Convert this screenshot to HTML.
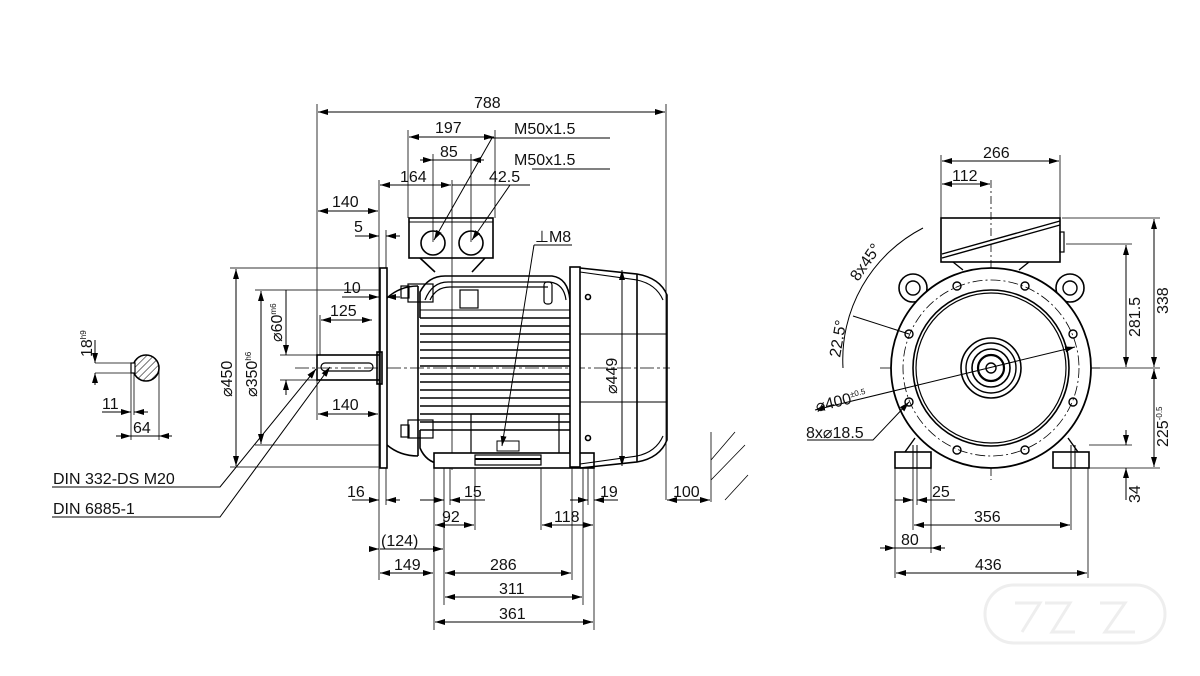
<!DOCTYPE html>
<html><head><meta charset="utf-8"><style>
html,body{margin:0;padding:0;background:#fff;}
svg{display:block}
text{font-family:"Liberation Sans",sans-serif;font-size:16px;fill:#111;}
</style></head><body>
<svg width="1200" height="676" viewBox="0 0 1200 676" xmlns="http://www.w3.org/2000/svg">
<defs>
<marker id="a" viewBox="0 0 10 6" refX="10" refY="3" markerWidth="10" markerHeight="6" orient="auto-start-reverse" markerUnits="userSpaceOnUse"><path d="M0,0L10,3L0,6z" fill="#000"/></marker>
<pattern id="h" width="5" height="5" patternUnits="userSpaceOnUse" patternTransform="rotate(45)"><line x1="0" y1="0" x2="0" y2="5" stroke="#000" stroke-width="1"/></pattern>
</defs>
<rect width="1200" height="676" fill="#fff"/>

<g stroke="#333" stroke-width="1" fill="none">
 <line x1="317" y1="104" x2="317" y2="420"/>
 <line x1="666" y1="104" x2="666" y2="500"/>
 <line x1="408" y1="130" x2="408" y2="218"/>
 <line x1="495" y1="130" x2="495" y2="218"/>
 <line x1="433" y1="154" x2="433" y2="242"/>
 <line x1="471" y1="154" x2="471" y2="242"/>
 <line x1="379" y1="180" x2="379" y2="580"/>
 <line x1="386" y1="230" x2="386" y2="268"/>
 <line x1="452" y1="180" x2="452" y2="470"/>
 <line x1="320" y1="315" x2="320" y2="355"/>
 <line x1="230" y1="268" x2="380" y2="268"/>
 <line x1="255" y1="290" x2="380" y2="290"/>
 <line x1="280" y1="355" x2="317" y2="355"/>
 <line x1="280" y1="380" x2="317" y2="380"/>
 <line x1="255" y1="445" x2="380" y2="445"/>
 <line x1="230" y1="467" x2="380" y2="467"/>
 <line x1="386" y1="468" x2="386" y2="505"/>
 <line x1="434" y1="468" x2="434" y2="630"/>
 <line x1="444" y1="468" x2="444" y2="605"/>
 <line x1="450" y1="468" x2="450" y2="505"/>
 <line x1="475" y1="468" x2="475" y2="530"/>
 <line x1="541" y1="468" x2="541" y2="530"/>
 <line x1="572" y1="468" x2="572" y2="580"/>
 <line x1="583" y1="468" x2="583" y2="605"/>
 <line x1="588" y1="468" x2="588" y2="505"/>
 <line x1="594" y1="468" x2="594" y2="630"/>
 <line x1="711" y1="432" x2="711" y2="502"/>
</g>
<g stroke="#000" stroke-width="1" fill="none">
 <line x1="318" y1="112" x2="665" y2="112" marker-start="url(#a)" marker-end="url(#a)"/>
 <line x1="409" y1="137" x2="494" y2="137" marker-start="url(#a)" marker-end="url(#a)"/>
 <line x1="420" y1="160" x2="433" y2="160" marker-end="url(#a)"/>
 <line x1="484" y1="160" x2="471" y2="160" marker-end="url(#a)"/>
 <line x1="433" y1="160" x2="471" y2="160"/>
 <line x1="380" y1="185" x2="451" y2="185" marker-start="url(#a)" marker-end="url(#a)"/>
 <line x1="452" y1="185" x2="530" y2="185"/>
 <line x1="318" y1="211" x2="378" y2="211" marker-start="url(#a)" marker-end="url(#a)"/>
 <line x1="355" y1="236" x2="379" y2="236" marker-end="url(#a)"/>
 <line x1="400" y1="236" x2="386" y2="236" marker-end="url(#a)"/>
 <line x1="342" y1="297" x2="379" y2="297" marker-end="url(#a)"/>
 <line x1="400" y1="297" x2="386" y2="297" marker-end="url(#a)"/>
 <line x1="321" y1="320" x2="372" y2="320" marker-start="url(#a)" marker-end="url(#a)"/>
 <line x1="318" y1="414" x2="378" y2="414" marker-start="url(#a)" marker-end="url(#a)"/>
 <line x1="236" y1="269" x2="236" y2="466" marker-start="url(#a)" marker-end="url(#a)"/>
 <line x1="261" y1="291" x2="261" y2="444" marker-start="url(#a)" marker-end="url(#a)"/>
 <line x1="286" y1="330" x2="286" y2="355" marker-end="url(#a)"/>
 <line x1="286" y1="395" x2="286" y2="380" marker-end="url(#a)"/>
 <line x1="286" y1="290" x2="286" y2="330"/>
 <line x1="352" y1="500" x2="379" y2="500" marker-end="url(#a)"/>
 <line x1="400" y1="500" x2="386" y2="500" marker-end="url(#a)"/>
 <line x1="420" y1="500" x2="444" y2="500" marker-end="url(#a)"/>
 <line x1="465" y1="500" x2="450" y2="500" marker-end="url(#a)"/>
 <line x1="450" y1="500" x2="485" y2="500"/>
 <line x1="570" y1="500" x2="588" y2="500" marker-end="url(#a)"/>
 <line x1="608" y1="500" x2="594" y2="500" marker-end="url(#a)"/>
 <line x1="594" y1="500" x2="618" y2="500"/>
 <line x1="667" y1="500" x2="710" y2="500" marker-start="url(#a)" marker-end="url(#a)"/>
 <line x1="435" y1="525" x2="474" y2="525" marker-start="url(#a)" marker-end="url(#a)"/>
 <line x1="542" y1="525" x2="572" y2="525" marker-start="url(#a)"/>
 <line x1="572" y1="525" x2="593" y2="525" marker-end="url(#a)"/>
 <line x1="370" y1="549" x2="379" y2="549" marker-end="url(#a)"/>
 <line x1="380" y1="549" x2="443" y2="549" marker-end="url(#a)"/>
 <line x1="380" y1="573" x2="433" y2="573" marker-start="url(#a)" marker-end="url(#a)"/>
 <line x1="445" y1="573" x2="571" y2="573" marker-start="url(#a)" marker-end="url(#a)"/>
 <line x1="445" y1="597" x2="582" y2="597" marker-start="url(#a)" marker-end="url(#a)"/>
 <line x1="435" y1="622" x2="593" y2="622" marker-start="url(#a)" marker-end="url(#a)"/>
</g>
<g stroke="#000" stroke-width="1" fill="none">
 <line x1="488" y1="138" x2="610" y2="138"/>
 <line x1="492" y1="138" x2="434" y2="240" marker-end="url(#a)"/>
 <line x1="532" y1="169" x2="610" y2="169"/>
 <line x1="510" y1="185" x2="472" y2="240" marker-end="url(#a)"/>
 <line x1="534" y1="245" x2="572" y2="245"/>
 <line x1="534" y1="245" x2="502" y2="446" marker-end="url(#a)"/>
 <polyline points="52,487 220,487 316,369" marker-end="url(#a)"/>
 <polyline points="52,517 220,517 330,367" marker-end="url(#a)"/>
 <line x1="711" y1="460" x2="735" y2="432" stroke-width="0.8"/>
 <line x1="711" y1="480" x2="745" y2="445" stroke-width="0.8"/>
 <line x1="725" y1="500" x2="748" y2="475" stroke-width="0.8"/>
</g>

<line x1="295" y1="368" x2="670" y2="368" stroke="#000" stroke-width="0.8" stroke-dasharray="14,3,3,3"/>

<g stroke="#000" stroke-width="1.6" fill="none">
 <rect x="317" y="355" width="63" height="25"/>
 <rect x="321" y="363" width="52" height="8" rx="4" stroke-width="1.2"/>
 <rect x="380" y="268" width="7" height="200" fill="#fff"/>
 <rect x="377" y="352" width="5" height="32"/>
 <path d="M387,298 Q400,286 418,286 M387,445 Q400,456 418,456"/>
 <line x1="418" y1="286" x2="418" y2="456"/>
 <rect x="409" y="218" width="84" height="40"/>
 <line x1="409" y1="222" x2="493" y2="222" stroke-width="1"/>
 <path d="M420,258 L435,272 M485,258 L472,272"/>
 <circle cx="433" cy="243" r="12"/>
 <circle cx="471" cy="243" r="12"/>
 <path d="M420,318 L420,292 Q428,276 445,276 L552,276 Q568,278 570,300 L570,318"/>
 <path d="M425,300 Q432,282 448,282 L550,282 Q564,284 566,300" stroke-width="1.2"/>
 <path d="M430,300 Q436,287 450,287 L548,287" stroke-width="1.2"/>
 <rect x="460" y="290" width="18" height="18" stroke-width="1.2"/>
 <line x1="420" y1="310" x2="570" y2="310" stroke-width="1"/>
 <rect x="401" y="286" width="8" height="12" stroke-width="1.2"/>
 <rect x="408" y="284" width="25" height="18" stroke-width="1.2"/>
 <rect x="544" y="282" width="8" height="22" rx="3" stroke-width="1.2"/>
 <rect x="401" y="425" width="8" height="12" stroke-width="1.2"/>
 <rect x="408" y="420" width="25" height="18" stroke-width="1.2"/>
 <g stroke-width="1.4">
  <line x1="420" y1="318" x2="570" y2="318"/><line x1="420" y1="326" x2="570" y2="326"/>
  <line x1="420" y1="334" x2="570" y2="334"/><line x1="420" y1="342" x2="570" y2="342"/>
  <line x1="420" y1="350" x2="570" y2="350"/><line x1="420" y1="358" x2="570" y2="358"/>
  <line x1="420" y1="366" x2="570" y2="366"/><line x1="420" y1="374" x2="570" y2="374"/>
  <line x1="420" y1="382" x2="570" y2="382"/><line x1="420" y1="390" x2="570" y2="390"/>
  <line x1="420" y1="398" x2="570" y2="398"/><line x1="420" y1="406" x2="570" y2="406"/>
  <line x1="420" y1="414" x2="570" y2="414"/><line x1="420" y1="422" x2="570" y2="422"/>
  <line x1="420" y1="430" x2="570" y2="430"/>
 </g>
 <path d="M420,430 L420,448 Q426,462 440,464 M570,440 L570,452"/>
 <rect x="471" y="414" width="88" height="40" stroke-width="1.2"/>
 <rect x="497" y="441" width="22" height="10" stroke-width="1"/>
 <rect x="434" y="453" width="160" height="15" fill="#fff"/>
 <rect x="475" y="455" width="66" height="10" stroke-width="1.2"/>
 <line x1="475" y1="459" x2="541" y2="459" stroke-width="2"/>
 <rect x="570" y="267" width="10" height="200" fill="#fff"/>
 <path d="M580,268 L637,274 Q660,278 667,295 L667,440 Q660,458 637,462 L580,468"/>
 <path d="M580,272 L637,280 Q656,284 663,300 M580,464 L637,456 Q656,452 663,436" stroke-width="1.1"/>
 <line x1="637" y1="274" x2="637" y2="462"/>
 <line x1="580" y1="334" x2="667" y2="334" stroke-width="1"/>
 <line x1="580" y1="402" x2="667" y2="402" stroke-width="1"/>
 <circle cx="588" cy="297" r="2.5"/><circle cx="588" cy="438" r="2.5"/>
</g>
<line x1="622" y1="270" x2="622" y2="466" stroke="#000" stroke-width="1" marker-start="url(#a)" marker-end="url(#a)"/>

<g stroke="#000" fill="none">
 <circle cx="146" cy="368" r="13" fill="url(#h)" stroke-width="1.6"/>
 <rect x="131" y="363" width="4" height="10" fill="#fff" stroke-width="1.2"/>
 <line x1="95" y1="363" x2="131" y2="363" stroke-width="0.8"/>
 <line x1="95" y1="373" x2="131" y2="373" stroke-width="0.8"/>
 <line x1="95" y1="340" x2="95" y2="363" marker-end="url(#a)"/>
 <line x1="95" y1="385" x2="95" y2="373" marker-end="url(#a)"/>
 <line x1="131" y1="373" x2="131" y2="440" stroke-width="0.8"/>
 <line x1="134" y1="373" x2="134" y2="415" stroke-width="0.8"/>
 <line x1="159" y1="368" x2="159" y2="440" stroke-width="0.8"/>
 <line x1="102" y1="412" x2="131" y2="412" marker-end="url(#a)"/>
 <line x1="148" y1="412" x2="134" y2="412" marker-end="url(#a)"/>
 <line x1="116" y1="436" x2="131" y2="436" marker-end="url(#a)"/>
 <line x1="172" y1="436" x2="159" y2="436" marker-end="url(#a)"/>
 <line x1="131" y1="436" x2="159" y2="436"/>
</g>

<g stroke="#000" fill="none">
 <line x1="880" y1="368" x2="1100" y2="368" stroke-width="0.8" stroke-dasharray="14,3,3,3"/>
 <line x1="991" y1="180" x2="991" y2="480" stroke-width="0.8" stroke-dasharray="8,3,2,3"/>
 <rect x="941" y="218" width="119" height="44" stroke-width="1.6"/>
 <path d="M942,254 L1060,221 M942,258 L1060,225" stroke-width="1.4"/>
 <rect x="1060" y="232" width="4" height="20" stroke-width="1.2"/>
 <path d="M953,262 L963,270 M1029,262 L1019,270" stroke-width="1.4"/>
 <circle cx="913" cy="288" r="14" stroke-width="1.6"/><circle cx="913" cy="288" r="7" stroke-width="1.4"/>
 <circle cx="1070" cy="288" r="14" stroke-width="1.6"/><circle cx="1070" cy="288" r="7" stroke-width="1.4"/>
 <path d="M905,452 L915,438 M1078,452 L1068,438" stroke-width="1.4"/>
 <rect x="895" y="452" width="36" height="16" fill="#fff" stroke-width="1.6"/>
 <rect x="1053" y="452" width="36" height="16" fill="#fff" stroke-width="1.6"/>
 <line x1="913" y1="445" x2="913" y2="468" stroke-width="1"/><line x1="917" y1="445" x2="917" y2="468" stroke-width="1"/>
 <line x1="1071" y1="445" x2="1071" y2="468" stroke-width="1"/><line x1="1075" y1="445" x2="1075" y2="468" stroke-width="1"/>
 <circle cx="991" cy="368" r="100" fill="#fff" stroke-width="1.8"/>
 <circle cx="991" cy="368" r="88" stroke-width="0.8" stroke-dasharray="10,3,2,3"/>
 <circle cx="991" cy="368" r="78" stroke-width="1.6"/>
 <circle cx="991" cy="368" r="75" stroke-width="1.2"/>
 <circle cx="991" cy="368" r="30" stroke-width="1.6"/>
 <circle cx="991" cy="368" r="25" stroke-width="1.4"/>
 <circle cx="991" cy="368" r="19" stroke-width="1.6"/>
 <circle cx="991" cy="368" r="13" stroke-width="2.2"/>
 <circle cx="991" cy="368" r="5" stroke-width="1.4"/>
 <g stroke-width="1.4">
  <circle cx="957" cy="286" r="4"/><circle cx="1025" cy="286" r="4"/>
  <circle cx="909" cy="334" r="4"/><circle cx="1073" cy="334" r="4"/>
  <circle cx="909" cy="402" r="4"/><circle cx="1073" cy="402" r="4"/>
  <circle cx="957" cy="450" r="4"/><circle cx="1025" cy="450" r="4"/>
 </g>
 <path d="M923,228 A148,148 0 0 0 843,368" stroke-width="1"/>
 <line x1="853" y1="316" x2="909" y2="334" stroke-width="1"/>
 <line x1="815" y1="410" x2="1075" y2="347" stroke-width="1" marker-start="url(#a)" marker-end="url(#a)"/>
 <polyline points="807,440 873,440 909,402" stroke-width="1" marker-end="url(#a)"/>
 <line x1="941" y1="155" x2="941" y2="218" stroke-width="0.8"/>
 <line x1="1060" y1="155" x2="1060" y2="218" stroke-width="0.8"/>
 <line x1="942" y1="161" x2="1059" y2="161" stroke-width="1" marker-start="url(#a)" marker-end="url(#a)"/>
 <line x1="942" y1="184" x2="990" y2="184" stroke-width="1" marker-start="url(#a)" marker-end="url(#a)"/>
 <line x1="1062" y1="218" x2="1160" y2="218" stroke-width="0.8"/>
 <line x1="1066" y1="244" x2="1132" y2="244" stroke-width="0.8"/>
 <line x1="1092" y1="368" x2="1160" y2="368" stroke-width="0.8"/>
 <line x1="1089" y1="445" x2="1132" y2="445" stroke-width="0.8"/>
 <line x1="1089" y1="468" x2="1160" y2="468" stroke-width="0.8"/>
 <line x1="1154" y1="219" x2="1154" y2="367" stroke-width="1" marker-start="url(#a)" marker-end="url(#a)"/>
 <line x1="1126" y1="245" x2="1126" y2="367" stroke-width="1" marker-start="url(#a)" marker-end="url(#a)"/>
 <line x1="1154" y1="369" x2="1154" y2="467" stroke-width="1" marker-start="url(#a)" marker-end="url(#a)"/>
 <line x1="1126" y1="430" x2="1126" y2="445" stroke-width="1" marker-end="url(#a)"/>
 <line x1="1126" y1="500" x2="1126" y2="468" stroke-width="1" marker-end="url(#a)"/>
 <line x1="895" y1="468" x2="895" y2="578" stroke-width="0.8"/>
 <line x1="913" y1="468" x2="913" y2="530" stroke-width="0.8"/>
 <line x1="917" y1="468" x2="917" y2="505" stroke-width="0.8"/>
 <line x1="931" y1="468" x2="931" y2="553" stroke-width="0.8"/>
 <line x1="1071" y1="468" x2="1071" y2="530" stroke-width="0.8"/>
 <line x1="1088" y1="468" x2="1088" y2="578" stroke-width="0.8"/>
 <line x1="895" y1="500" x2="913" y2="500" stroke-width="1" marker-end="url(#a)"/>
 <line x1="931" y1="500" x2="917" y2="500" stroke-width="1" marker-end="url(#a)"/>
 <line x1="917" y1="500" x2="955" y2="500" stroke-width="1"/>
 <line x1="914" y1="525" x2="1070" y2="525" stroke-width="1" marker-start="url(#a)" marker-end="url(#a)"/>
 <line x1="880" y1="548" x2="895" y2="548" stroke-width="1" marker-end="url(#a)"/>
 <line x1="945" y1="548" x2="931" y2="548" stroke-width="1" marker-end="url(#a)"/>
 <line x1="895" y1="548" x2="931" y2="548" stroke-width="1"/>
 <line x1="896" y1="573" x2="1087" y2="573" stroke-width="1" marker-start="url(#a)" marker-end="url(#a)"/>
</g>
<g stroke="#eee" stroke-width="3" fill="none">
 <rect x="985" y="585" width="180" height="58" rx="29"/>
 <path d="M1015,603 L1040,603 L1022,632 M1045,603 L1070,603 L1052,632 L1075,632 M1100,603 L1125,603 L1105,632 L1135,632"/>
</g>

<text x="474" y="108">788</text>
<text x="435" y="133">197</text>
<text x="440" y="157">85</text>
<text x="400" y="182">164</text>
<text x="489" y="182">42.5</text>
<text x="514" y="134">M50x1.5</text>
<text x="514" y="165">M50x1.5</text>
<text x="332" y="207">140</text>
<text x="354" y="232">5</text>
<text x="535" y="242">⊥M8</text>
<text x="343" y="293">10</text>
<text x="330" y="316">125</text>
<text x="332" y="410">140</text>
<text transform="translate(232,397) rotate(-90)">⌀450</text>
<text transform="translate(257,397) rotate(-90)">⌀350<tspan font-size="8" dy="-6">h6</tspan></text>
<text transform="translate(282,342) rotate(-90)">⌀60<tspan font-size="8" dy="-6">m6</tspan></text>
<text transform="translate(617,394) rotate(-90)">⌀449</text>
<text transform="translate(92,357) rotate(-90)">18<tspan font-size="8" dy="-6">h9</tspan></text>
<text x="102" y="409">11</text>
<text x="133" y="433">64</text>
<text x="53" y="484">DIN 332-DS M20</text>
<text x="53" y="514">DIN 6885-1</text>
<text x="347" y="497">16</text>
<text x="464" y="497">15</text>
<text x="600" y="497">19</text>
<text x="673" y="497">100</text>
<text x="442" y="522">92</text>
<text x="554" y="522">118</text>
<text x="381" y="546">(124)</text>
<text x="394" y="570">149</text>
<text x="490" y="570">286</text>
<text x="499" y="594">311</text>
<text x="499" y="619">361</text>
<text x="983" y="158">266</text>
<text x="952" y="181">112</text>
<text transform="translate(1168,314) rotate(-90)">338</text>
<text transform="translate(1140,337) rotate(-90)">281.5</text>
<text transform="translate(1168,447) rotate(-90)">225<tspan font-size="8" dy="-6">-0.5</tspan></text>
<text transform="translate(1140,503) rotate(-90)">34</text>
<text x="932" y="497">25</text>
<text x="974" y="522">356</text>
<text x="901" y="545">80</text>
<text x="975" y="570">436</text>
<text transform="translate(858,282) rotate(-55)">8x45°</text>
<text transform="translate(840,358) rotate(-80)">22.5°</text>
<text transform="translate(817,412) rotate(-14)">⌀400<tspan font-size="8" dy="-6">±0.5</tspan></text>
<text x="806" y="438">8x⌀18.5</text>
</svg>
</body></html>
